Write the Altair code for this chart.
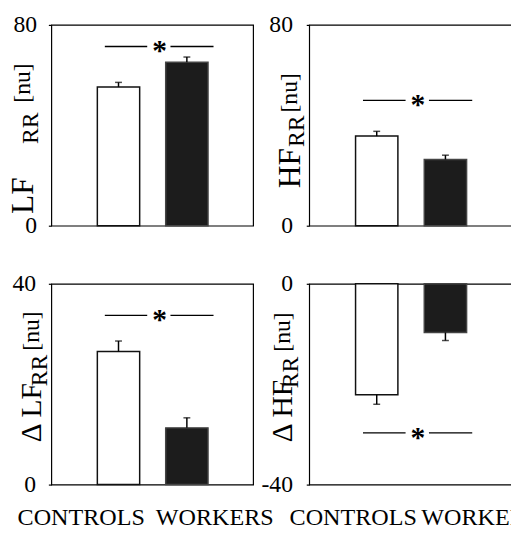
import altair as alt
import pandas as pd

categories = ["CONTROLS", "WORKERS"]
positions = [0, 1]

lf_mean = [55.3, 65.1]
lf_se = [1.8, 2.1]
hf_mean = [35.7, 26.4]
hf_se = [1.9, 1.7]
dlf_mean = [26.5, 11.3]
dlf_se = [2.1, 2.0]
dhf_mean = [-22.1, -9.7]
dhf_se = [-1.9, -1.6]

sig_levels = [71.4, 49.9, 33.7, -29.7]
y_domains = [[0, 80], [0, 80], [0, 40], [-40, 0]]

SERIF = "Liberation Serif"
H = 204
X_DOMAIN = [-0.911, 1.897]
SIG_SEG_X = [-0.2, 0.76]
SIG_SEG_X2 = [0.42, 1.39]
STAR_X = 0.6


def make_panel(mean, se, sig, dom, titles, width, label_pad, bottom=None):
    df = pd.DataFrame({
        "cat": categories,
        "pos": positions,
        "mean": mean,
        "tip": [m + s for m, s in zip(mean, se)],
    })
    xs = alt.Scale(domain=X_DOMAIN, nice=False, zero=False)
    ys = alt.Scale(domain=dom, nice=False, zero=False)
    base = alt.Chart(df)
    bars = base.mark_bar(width=43, strokeWidth=1.5).encode(
        x=alt.X("pos:Q", scale=xs, axis=None),
        y=alt.Y("mean:Q", scale=ys, title=None,
                axis=alt.Axis(values=dom, grid=False, domain=False, ticks=True,
                              tickSize=3, tickColor="black", tickWidth=1.2,
                              labelFont=SERIF, labelFontSize=24, labelColor="black",
                              labelPadding=label_pad,
                              labelExpr="toString(datum.value)")),
        fill=alt.Fill("cat:N", scale=alt.Scale(domain=categories, range=["white", "#1c1c1c"]), legend=None),
        stroke=alt.Stroke("cat:N", scale=alt.Scale(domain=categories, range=["#111111", "#444444"]), legend=None),
    )
    err = base.mark_rule(color="black", strokeWidth=1.5).encode(
        x="pos:Q", y="mean:Q", y2="tip:Q")
    cap = base.mark_tick(orient="horizontal", size=7, thickness=1.5, color="black").encode(
        x="pos:Q", y="tip:Q")
    sig_df = pd.DataFrame({"x": SIG_SEG_X, "x2": SIG_SEG_X2, "y": [sig, sig]})
    sig_line = alt.Chart(sig_df).mark_rule(color="black", strokeWidth=1.3).encode(
        x="x:Q", x2="x2:Q", y="y:Q")
    star_df = pd.DataFrame({"x": [STAR_X], "y": [sig]})
    star = alt.Chart(star_df).mark_text(text="*", font=SERIF, fontWeight="bold", fontSize=30,
                                        baseline="alphabetic", dy=14, color="black").encode(
        x="x:Q", y="y:Q")
    layers = [bars, err, cap, sig_line, star]
    one = pd.DataFrame({"a": [0]})
    for text, size, bx, by in titles:
        layers.append(alt.Chart(one).mark_text(text=text, font=SERIF, fontSize=size, angle=270,
                                               align="left", baseline="alphabetic", color="black").encode(
            x=alt.value(bx), y=alt.value(by)))
    if bottom:
        for cat, dx in bottom:
            layers.append(base.transform_filter(alt.datum.cat == cat).mark_text(
                font=SERIF, fontSize=24.5, baseline="alphabetic", align="left", dx=dx,
                color="black").encode(x="pos:Q", y=alt.value(H + 41), text="cat:N"))
    return alt.layer(*layers).properties(width=width, height=H)


p1 = make_panel(lf_mean, lf_se, sig_levels[0], y_domains[0],
                [("LF", 32, -19, 192), ("RR", 24, -14, 121), ("[nu]", 24, -22, 79)], 205, 12)
p2 = make_panel(hf_mean, hf_se, sig_levels[1], y_domains[1],
                [("HF", 32, -9, 166), ("RR", 24, -5, 124), ("[nu]", 24, -12, 89)], 206, 14)
p3 = make_panel(dlf_mean, dlf_se, sig_levels[2], y_domains[2],
                [("Δ LF", 30, -10, 161), ("RR", 24, -4, 104), ("[nu]", 24, -13, 68)], 205, 13,
                bottom=[("CONTROLS", -102.5), ("WORKERS", -31.5)])
p4 = make_panel(dhf_mean, dhf_se, sig_levels[3], y_domains[3],
                [("Δ HF", 30, -17, 161), ("RR", 24, -11, 106), ("[nu]", 24, -20, 69)], 206, 14,
                bottom=[("CONTROLS", -88.5), ("WORKERS", -24.5)])

PAD_L, PAD_T = 44, 13
chart = alt.concat(p1, p2, p3, p4, columns=2,
                   spacing=alt.RowColnumber(row=59, column=57), bounds="flush").properties(
    autosize=alt.AutoSizeParams(type="none"),
    padding={"left": PAD_L, "top": PAD_T, "right": 511 - PAD_L, "bottom": 525 - PAD_T},
).configure_view(stroke="black", strokeWidth=1.2)

chart.save("out.html", embed_options={"renderer": "svg", "actions": False})
